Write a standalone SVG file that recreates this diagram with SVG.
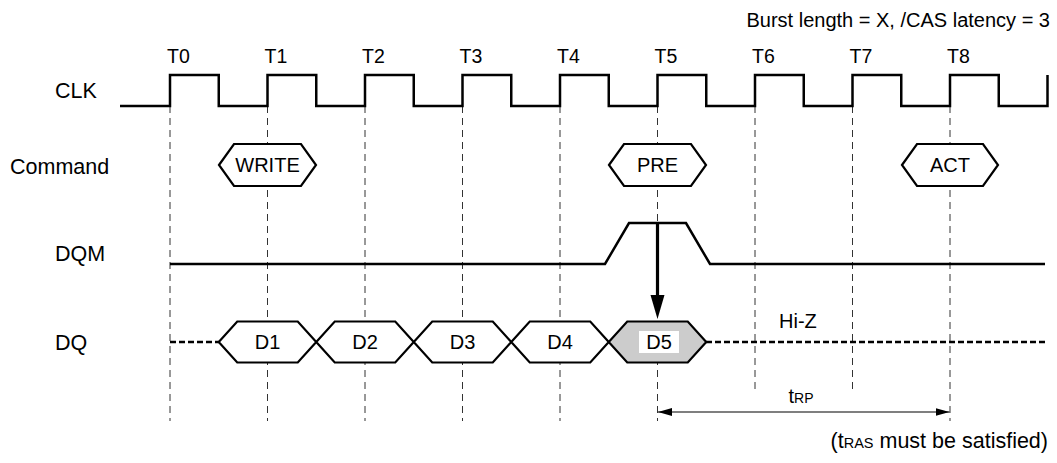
<svg xmlns="http://www.w3.org/2000/svg" width="1057" height="463" viewBox="0 0 1057 463">
<defs>
<style>
text{font-family:"Liberation Sans",Arial,sans-serif;fill:#000}
.lbl{font-size:20px}
.side{font-size:21.5px}
.tl{font-size:19.5px}
.ctr{text-anchor:middle}
.end{text-anchor:end}
.sig{fill:none;stroke:#000;stroke-width:2.5;stroke-linejoin:miter}
.hex{fill:#fff;stroke:#000;stroke-width:2.2;stroke-linejoin:miter}
.grid{stroke:#333;stroke-width:1;stroke-dasharray:7 5}
.hiz{stroke:#000;stroke-width:2.5;stroke-dasharray:6 3}
</style>
<marker id="ah" viewBox="0 0 14 8" refX="14" refY="4" markerWidth="14" markerHeight="8" markerUnits="userSpaceOnUse" orient="auto-start-reverse">
<path d="M0,0 L14,4 L0,8 z" fill="#000"/>
</marker>
</defs>
<rect width="1057" height="463" fill="#fff"/>

<text class="lbl end" x="1050" y="27">Burst length = X, /CAS latency = 3</text>

<g id="grid">
<line class="grid" x1="170" y1="106" x2="170" y2="421"/>
<line class="grid" x1="267.5" y1="106" x2="267.5" y2="421"/>
<line class="grid" x1="365" y1="106" x2="365" y2="421"/>
<line class="grid" x1="462.5" y1="106" x2="462.5" y2="421"/>
<line class="grid" x1="560" y1="106" x2="560" y2="421"/>
<line class="grid" x1="657.5" y1="106" x2="657.5" y2="421"/>
<line class="grid" x1="755" y1="106" x2="755" y2="393"/>
<line class="grid" x1="852.5" y1="106" x2="852.5" y2="393"/>
<line class="grid" x1="950" y1="106" x2="950" y2="421"/>
</g>

<g id="labels">
<text class="side" x="55" y="98">CLK</text>
<text class="side" x="10" y="174">Command</text>
<text class="side" x="55" y="261">DQM</text>
<text class="side" x="55" y="350">DQ</text>
<text class="tl" x="167" y="63">T0</text>
<text class="tl" x="264.5" y="63">T1</text>
<text class="tl" x="362" y="63">T2</text>
<text class="tl" x="459.5" y="63">T3</text>
<text class="tl" x="557" y="63">T4</text>
<text class="tl" x="654.5" y="63">T5</text>
<text class="tl" x="752" y="63">T6</text>
<text class="tl" x="849.5" y="63">T7</text>
<text class="tl" x="947" y="63">T8</text>
</g>

<g id="clk">
<path class="sig" d="M120,106 H170 V75 H218.75 V106 H267.5 V75 H316.25 V106 H365 V75 H413.75 V106 H462.5 V75 H511.25 V106 H560 V75 H608.75 V106 H657.5 V75 H706.25 V106 H755 V75 H803.75 V106 H852.5 V75 H901.25 V106 H950 V75 H998.75 V106 H1047.5 V75"/>
</g>

<g id="cmd-write">
<polygon class="hex" points="219,165 234,144 301,144 316,165 301,186 234,186"/>
<text class="lbl ctr" x="267.5" y="172">WRITE</text>
</g>
<g id="cmd-pre">
<polygon class="hex" points="609,165 624,144 691,144 706,165 691,186 624,186"/>
<text class="lbl ctr" x="657.5" y="172">PRE</text>
</g>
<g id="cmd-act">
<polygon class="hex" points="902,165 917,144 983,144 998,165 983,186 917,186"/>
<text class="lbl ctr" x="950" y="172">ACT</text>
</g>

<g id="dqm">
<path class="sig" d="M170,264 H605 L629,223 H686 L710,264 H1045"/>
</g>

<g id="dq">
<line class="hiz" x1="170" y1="342" x2="219" y2="342"/>
<line class="hiz" x1="706" y1="342" x2="1045" y2="342"/>
<g id="d1">
<polygon class="hex" points="218.75,342 237.25,321.5 297.75,321.5 316.25,342 297.75,362.5 237.25,362.5"/>
<text class="lbl ctr" x="267.5" y="349">D1</text>
</g>
<g id="d2">
<polygon class="hex" points="316.25,342 334.75,321.5 395.25,321.5 413.75,342 395.25,362.5 334.75,362.5"/>
<text class="lbl ctr" x="365" y="349">D2</text>
</g>
<g id="d3">
<polygon class="hex" points="413.75,342 432.25,321.5 492.75,321.5 511.25,342 492.75,362.5 432.25,362.5"/>
<text class="lbl ctr" x="462.5" y="349">D3</text>
</g>
<g id="d4">
<polygon class="hex" points="511.25,342 529.75,321.5 590.25,321.5 608.75,342 590.25,362.5 529.75,362.5"/>
<text class="lbl ctr" x="560" y="349">D4</text>
</g>
<g id="d5">
<polygon class="hex" style="fill:#cccccc" points="608.75,342 627.25,321.5 687.75,321.5 706.25,342 687.75,362.5 627.25,362.5"/>
<rect x="639" y="331" width="40" height="22" fill="#fff"/>
<text class="lbl ctr" x="659" y="349">D5</text>
</g>
<text class="lbl" x="779" y="328">Hi-Z</text>
</g>

<g id="connectors">
<line x1="657.5" y1="223" x2="657.5" y2="297" stroke="#000" stroke-width="3.2"/>
<polygon points="650.5,295 664.5,295 657.5,319" fill="#000"/>
<line x1="658" y1="412" x2="949.5" y2="412" stroke="#000" stroke-width="1.2" marker-start="url(#ah)" marker-end="url(#ah)"/>
</g>

<text class="lbl ctr" x="801" y="403">t<tspan font-size="14">RP</tspan></text>
<text class="end" font-size="21.5" x="1048" y="448">(t<tspan font-size="14.5">RAS</tspan> must be satisfied)</text>
</svg>
